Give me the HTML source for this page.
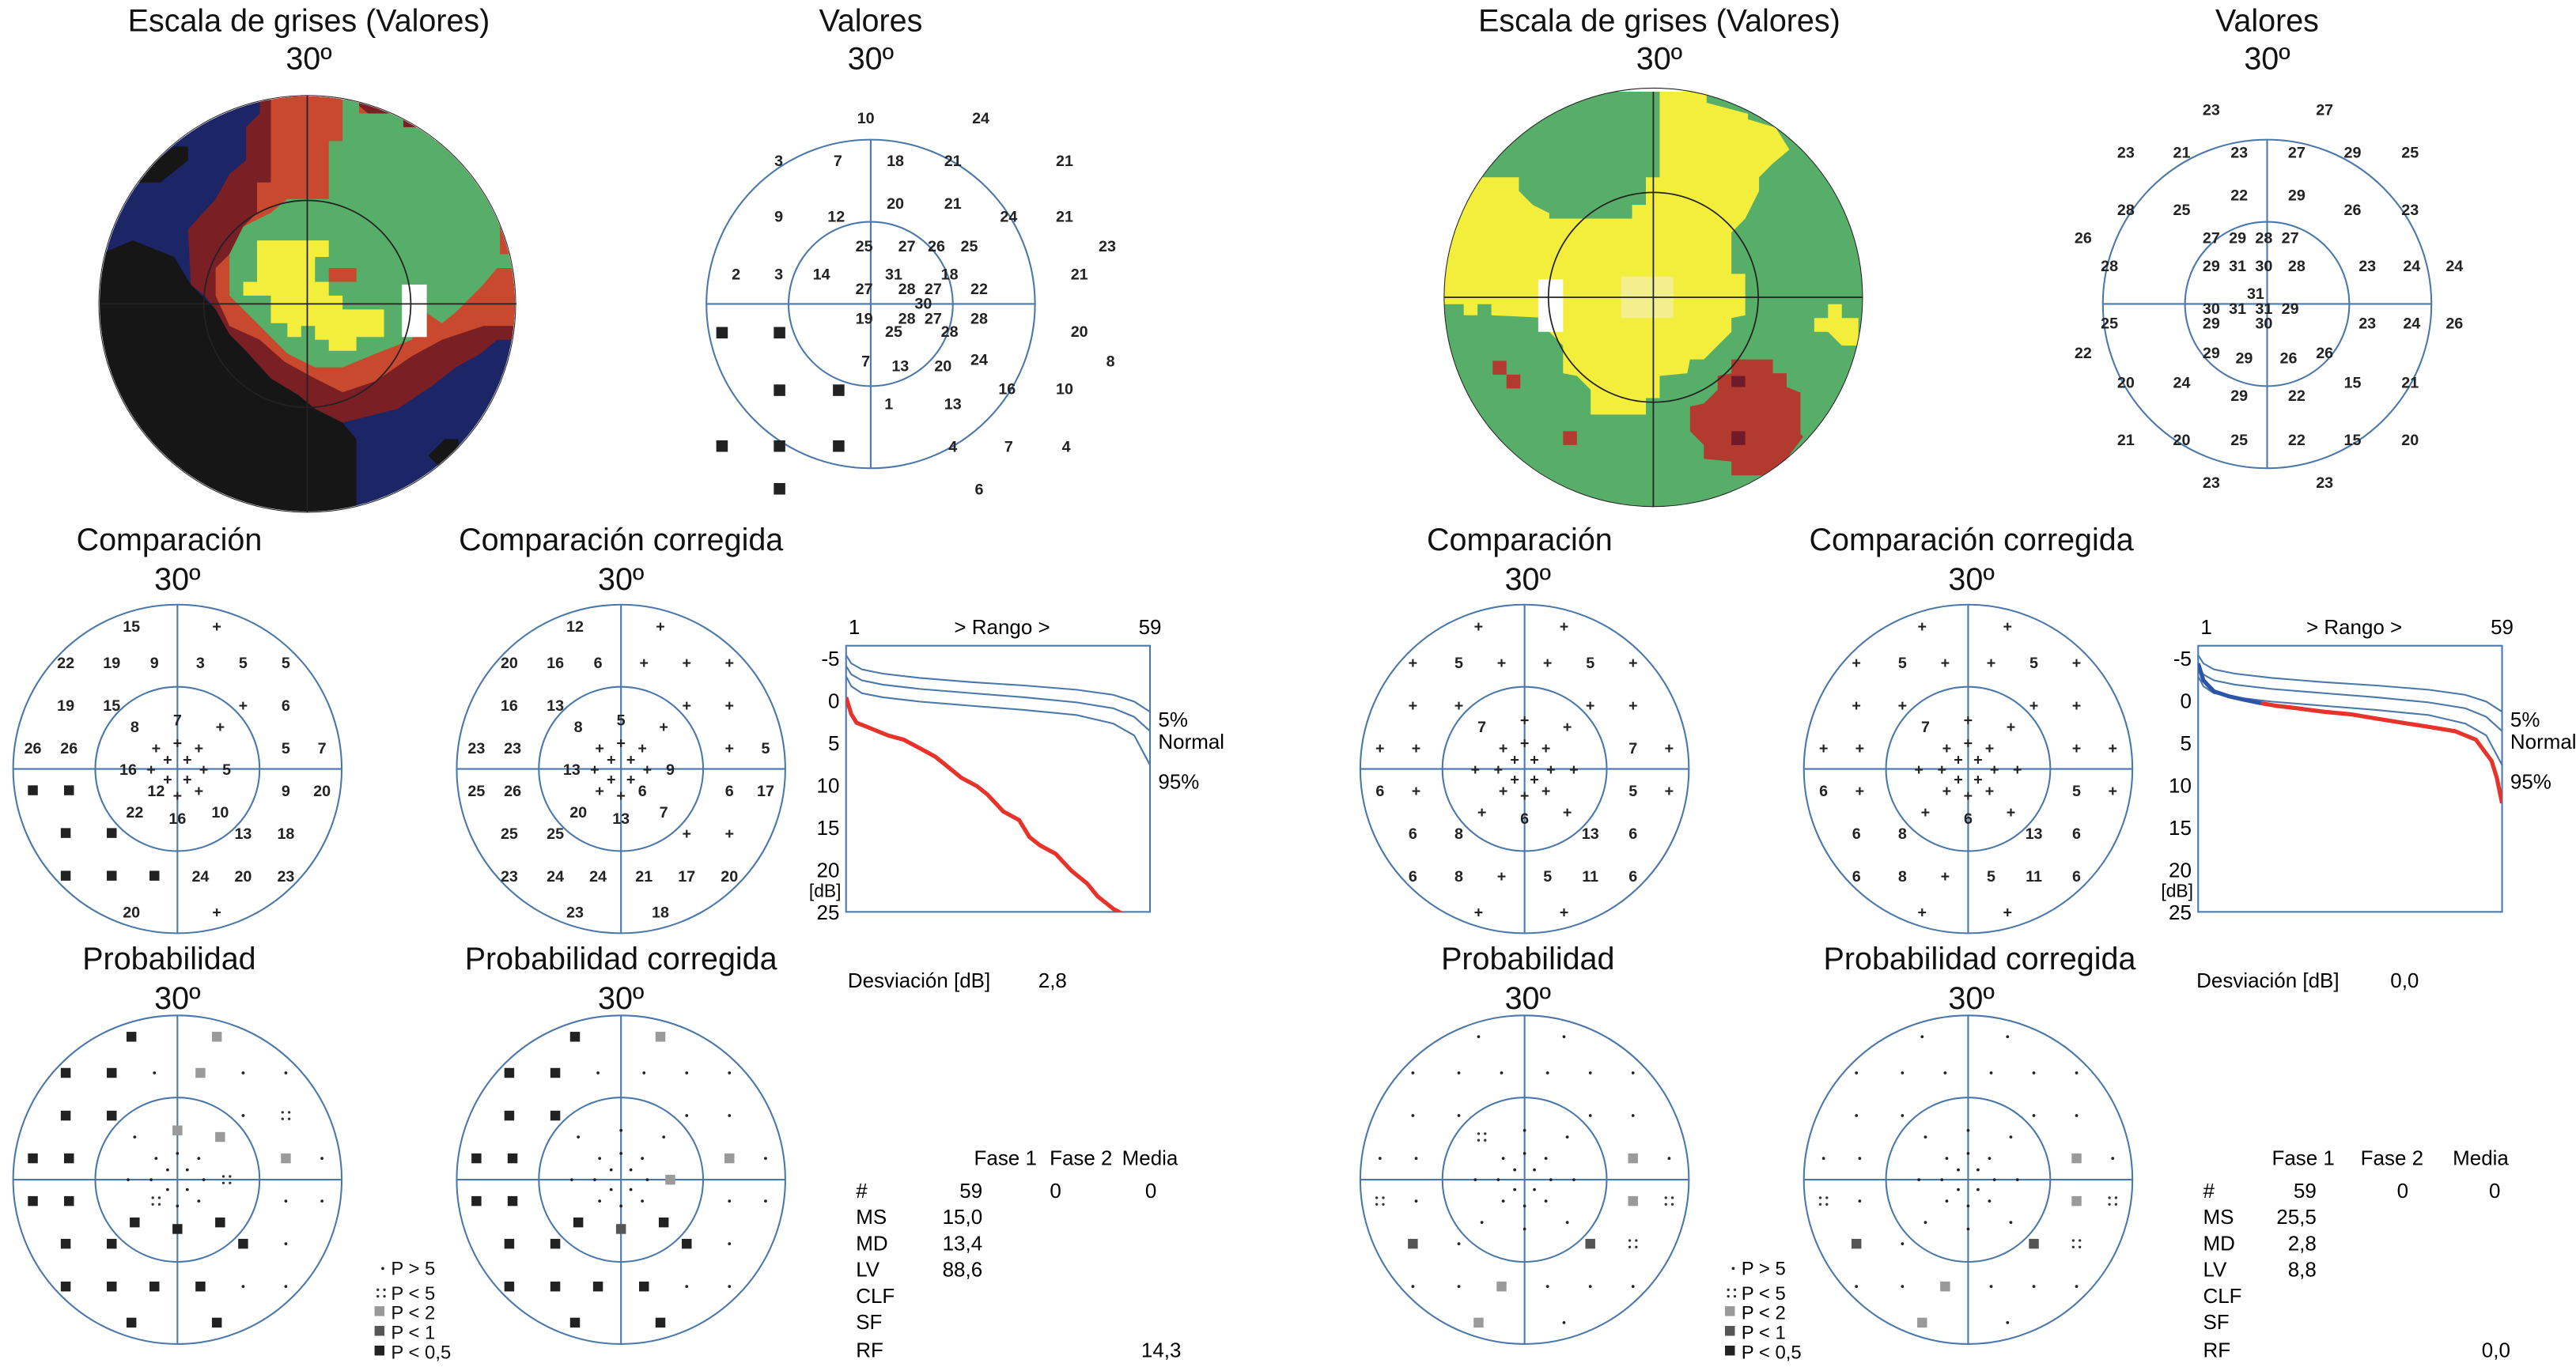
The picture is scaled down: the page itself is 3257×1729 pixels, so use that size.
<!DOCTYPE html>
<html><head><meta charset="utf-8"><style>
html,body{margin:0;padding:0;background:#fff;}
svg{display:block;font-family:"Liberation Sans",sans-serif;}
.t{font-size:19px;text-anchor:middle;fill:#111;}
.n{font-size:9.5px;font-weight:bold;text-anchor:middle;fill:#222;}
.s{font-size:12.5px;fill:#111;}
.c{fill:none;stroke:#4a78aa;stroke-width:1;}
</style></head><body>
<svg id="root" width="3257" height="1729" viewBox="0 0 1568 832" preserveAspectRatio="none" xmlns="http://www.w3.org/2000/svg">
<defs>
<clipPath id="clipL"><circle cx="752" cy="770" r="752"/></clipPath>
<clipPath id="clipR"><circle cx="757" cy="745" r="757"/></clipPath>
</defs>

<!-- LEFT GRAYSCALE -->
<g><text class="t" x="188" y="19">Escala de grises (Valores)</text><text class="t" x="188" y="42">30º</text></g>
<g transform="translate(60.7,55.6) scale(0.168)">
<g clip-path="url(#clipL)">
<rect x="0" y="0" width="1568" height="1568" fill="#1c2566"/>
<polygon fill="#161616" points="0,590 120,540 270,600 330,700 420,790 470,880 530,940 620,1040 720,1100 780,1150 880,1200 930,1260 930,1568 0,1568"/>
<polygon fill="#161616" points="120,330 170,280 270,200 320,200 320,250 220,330"/>
<polygon fill="#161616" points="1190,1320 1250,1260 1300,1260 1300,1320 1240,1370"/>
<polygon fill="#7a1f24" points="530,130 580,80 580,0 1568,0 1568,900 1440,900 1380,950 1290,1000 1200,1070 1080,1150 880,1200 780,1150 720,1100 620,1040 530,940 470,880 420,790 380,740 330,700 320,500 420,390 470,300 530,250"/>
<polygon fill="#c9492f" points="620,0 880,0 1568,600 1568,850 1390,850 1240,900 1130,960 1000,1050 880,1090 780,1040 670,980 580,900 470,850 420,740 420,640 470,590 520,490 570,440 570,330 620,330 620,250"/>
<polygon fill="#56ae68" points="880,0 940,0 940,80 1100,80 1100,130 1250,130 1300,250 1400,330 1450,430 1450,590 1568,590 1568,640 1440,640 1390,700 1340,750 1290,800 1240,840 1180,800 1130,900 1000,950 880,1000 780,1000 680,950 620,890 570,840 520,790 470,740 470,590 520,490 620,440 680,390 830,390 830,180 880,180"/>
<polygon fill="#f3ee3c" points="570,540 830,540 830,600 780,600 780,690 830,690 830,740 880,740 880,790 1030,790 1030,890 930,890 930,940 830,940 830,900 780,900 780,850 730,850 730,890 680,890 680,840 620,840 620,740 520,740 520,690 570,690"/>
<rect x="1095" y="700" width="90" height="190" fill="#fff"/>
<rect x="830" y="640" width="100" height="50" fill="#c9492f"/>
</g>
<g stroke="#222" stroke-width="5" fill="none">
<circle cx="752" cy="770" r="375"/><line x1="0" y1="770" x2="1510" y2="770"/><line x1="752" y1="15" x2="752" y2="1525"/><circle cx="752" cy="770" r="755" stroke-width="3"/></g>
</g>

<!-- RIGHT GRAYSCALE -->
<g><text class="t" x="1010" y="19">Escala de grises (Valores)</text><text class="t" x="1010" y="42">30º</text></g>
<g transform="translate(879.2,55.8) scale(0.168)">
<g clip-path="url(#clipR)">
<rect x="0" y="0" width="1568" height="1568" fill="#56ae68"/>
<polygon fill="#f3ee3c" points="0,560 20,420 70,410 120,310 270,310 270,360 320,410 380,440 380,460 680,460 680,410 730,410 730,310 780,310 780,0 950,0 950,40 1100,80 1100,100 1200,130 1250,210 1190,260 1140,310 1140,360 1090,460 1040,510 1040,660 1090,660 1090,810 1040,820 1040,870 990,920 940,970 890,970 880,1020 780,1030 780,1110 730,1110 730,1170 530,1170 530,1080 480,1030 430,1020 430,920 380,870 380,820 170,810 170,770 120,770 120,810 70,810 70,770 0,770"/>
<polygon fill="#f3ee3c" points="1390,770 1440,770 1440,820 1500,820 1500,920 1440,920 1390,870 1340,870 1340,820 1390,820"/>
<rect x="340" y="680" width="90" height="190" fill="#fff"/>
<rect x="640" y="670" width="190" height="150" fill="#f2ef8c"/>
<polygon fill="#b23a2e" points="1040,970 1190,970 1190,1020 1240,1020 1240,1070 1290,1090 1290,1240 1300,1250 1240,1330 1190,1390 1040,1390 1040,1340 940,1330 940,1280 890,1230 890,1140 940,1130 990,1080 990,1030 1040,1020"/>
<rect x="1040" y="1030" width="50" height="40" fill="#6e1a2a"/><rect x="1040" y="1230" width="50" height="50" fill="#6e1a2a"/>
<rect x="175" y="975" width="50" height="50" fill="#b23a2e"/><rect x="225" y="1025" width="50" height="50" fill="#b23a2e"/><rect x="430" y="1230" width="50" height="50" fill="#b23a2e"/>
</g>
<g stroke="#222" stroke-width="5" fill="none">
<circle cx="757" cy="745" r="380"/><line x1="0" y1="745" x2="1515" y2="745"/><line x1="757" y1="0" x2="757" y2="1505"/><circle cx="757" cy="745" r="758" stroke-width="3"/></g>
</g>

<!-- VALORES LEFT -->
<g>
<text class="t" x="530" y="19">Valores</text><text class="t" x="530" y="42">30º</text>
<circle class="c" cx="530" cy="185" r="100"/><circle class="c" cx="530" cy="185" r="50"/>
<line class="c" x1="430" y1="185" x2="630" y2="185"/><line class="c" x1="530" y1="85" x2="530" y2="285"/>
<text class="n" x="527" y="75">10</text><text class="n" x="597" y="75">24</text>
<text class="n" x="474" y="101">3</text><text class="n" x="510" y="101">7</text><text class="n" x="545" y="101">18</text><text class="n" x="580" y="101">21</text><text class="n" x="648" y="101">21</text>
<text class="n" x="474" y="135">9</text><text class="n" x="509" y="135">12</text><text class="n" x="545" y="127">20</text><text class="n" x="580" y="127">21</text><text class="n" x="614" y="135">24</text><text class="n" x="648" y="135">21</text>
<text class="n" x="526" y="153">25</text><text class="n" x="552" y="153">27</text><text class="n" x="570" y="153">26</text><text class="n" x="590" y="153">25</text><text class="n" x="674" y="153">23</text>
<text class="n" x="448" y="170">2</text><text class="n" x="474" y="170">3</text><text class="n" x="500" y="170">14</text><text class="n" x="544" y="170">31</text><text class="n" x="578" y="170">18</text><text class="n" x="657" y="170">21</text>
<text class="n" x="526" y="179">27</text><text class="n" x="552" y="179">28</text><text class="n" x="568" y="179">27</text><text class="n" x="596" y="179">22</text>
<text class="n" x="562" y="188">30</text>
<text class="n" x="526" y="197">19</text><text class="n" x="552" y="197">28</text><text class="n" x="568" y="197">27</text><text class="n" x="596" y="197">28</text>
<text class="n" x="544" y="205">25</text><text class="n" x="578" y="205">28</text><text class="n" x="657" y="205">20</text>
<text class="n" x="527" y="223">7</text><text class="n" x="548" y="226">13</text><text class="n" x="574" y="226">20</text><text class="n" x="596" y="222">24</text><text class="n" x="676" y="223">8</text>
<text class="n" x="613" y="240">16</text><text class="n" x="648" y="240">10</text>
<text class="n" x="541" y="249">1</text><text class="n" x="580" y="249">13</text>
<text class="n" x="580" y="275">4</text><text class="n" x="614" y="275">7</text><text class="n" x="649" y="275">4</text><text class="n" x="596" y="301">6</text>
<g fill="#222"><rect x="436" y="199" width="7" height="7"/><rect x="471" y="199" width="7" height="7"/><rect x="471" y="234" width="7" height="7"/><rect x="507" y="234" width="7" height="7"/><rect x="436" y="268" width="7" height="7"/><rect x="471" y="268" width="7" height="7"/><rect x="507" y="268" width="7" height="7"/><rect x="471" y="294" width="7" height="7"/></g>
</g>

<!-- VALORES RIGHT -->
<g>
<text class="t" x="1380" y="19">Valores</text><text class="t" x="1380" y="42">30º</text>
<circle class="c" cx="1380" cy="185" r="100"/><circle class="c" cx="1380" cy="185" r="50"/>
<line class="c" x1="1280" y1="185" x2="1480" y2="185"/><line class="c" x1="1380" y1="85" x2="1380" y2="285"/>
<text class="n" x="1346" y="70">23</text><text class="n" x="1415" y="70">27</text>
<text class="n" x="1294" y="96">23</text><text class="n" x="1328" y="96">21</text><text class="n" x="1363" y="96">23</text><text class="n" x="1398" y="96">27</text><text class="n" x="1432" y="96">29</text><text class="n" x="1467" y="96">25</text>
<text class="n" x="1294" y="131">28</text><text class="n" x="1328" y="131">25</text><text class="n" x="1363" y="122">22</text><text class="n" x="1398" y="122">29</text><text class="n" x="1432" y="131">26</text><text class="n" x="1467" y="131">23</text>
<text class="n" x="1268" y="148">26</text><text class="n" x="1346" y="148">27</text><text class="n" x="1362" y="148">29</text><text class="n" x="1378" y="148">28</text><text class="n" x="1394" y="148">27</text>
<text class="n" x="1284" y="165">28</text><text class="n" x="1346" y="165">29</text><text class="n" x="1362" y="165">31</text><text class="n" x="1378" y="165">30</text><text class="n" x="1398" y="165">28</text><text class="n" x="1441" y="165">23</text><text class="n" x="1468" y="165">24</text><text class="n" x="1494" y="165">24</text>
<text class="n" x="1373" y="182">31</text>
<text class="n" x="1346" y="191">30</text><text class="n" x="1362" y="191">31</text><text class="n" x="1378" y="191">31</text><text class="n" x="1394" y="191">29</text>
<text class="n" x="1284" y="200">25</text><text class="n" x="1346" y="200">29</text><text class="n" x="1378" y="200">30</text><text class="n" x="1441" y="200">23</text><text class="n" x="1468" y="200">24</text><text class="n" x="1494" y="200">26</text>
<text class="n" x="1268" y="218">22</text><text class="n" x="1346" y="218">29</text><text class="n" x="1366" y="221">29</text><text class="n" x="1393" y="221">26</text><text class="n" x="1415" y="218">26</text>
<text class="n" x="1294" y="236">20</text><text class="n" x="1328" y="236">24</text><text class="n" x="1363" y="244">29</text><text class="n" x="1398" y="244">22</text><text class="n" x="1432" y="236">15</text><text class="n" x="1467" y="236">21</text>
<text class="n" x="1294" y="271">21</text><text class="n" x="1328" y="271">20</text><text class="n" x="1363" y="271">25</text><text class="n" x="1398" y="271">22</text><text class="n" x="1432" y="271">15</text><text class="n" x="1467" y="271">20</text>
<text class="n" x="1346" y="297">23</text><text class="n" x="1415" y="297">23</text>
</g>

<!-- titles of small plots -->
<g>
<text class="t" x="103" y="335">Comparación</text><text class="t" x="108" y="359">30º</text>
<text class="t" x="378" y="335">Comparación corregida</text><text class="t" x="378" y="359">30º</text>
<text class="t" x="103" y="590">Probabilidad</text><text class="t" x="108" y="614">30º</text>
<text class="t" x="378" y="590">Probabilidad corregida</text><text class="t" x="378" y="614">30º</text>
<text class="t" x="925" y="335">Comparación</text><text class="t" x="930" y="359">30º</text>
<text class="t" x="1200" y="335">Comparación corregida</text><text class="t" x="1200" y="359">30º</text>
<text class="t" x="930" y="590">Probabilidad</text><text class="t" x="930" y="614">30º</text>
<text class="t" x="1205" y="590">Probabilidad corregida</text><text class="t" x="1200" y="614">30º</text>
</g>

<!-- legends -->
<g class="s" font-size="11.5">
<circle cx="233" cy="772" r="0.9" fill="#222"/><text x="238" y="776" font-size="11.5">P &gt; 5</text>
<g fill="#333"><circle cx="230" cy="785" r=".8"/><circle cx="234" cy="785" r=".8"/><circle cx="230" cy="789" r=".8"/><circle cx="234" cy="789" r=".8"/></g><text x="238" y="791" font-size="11.5">P &lt; 5</text>
<rect x="228" y="795" width="6" height="6" fill="#999"/><text x="238" y="803" font-size="11.5">P &lt; 2</text>
<rect x="228" y="807" width="6" height="6" fill="#555"/><text x="238" y="815" font-size="11.5">P &lt; 1</text>
<rect x="228" y="819" width="6" height="6" fill="#222"/><text x="238" y="827" font-size="11.5">P &lt; 0,5</text>
</g>
<g transform="translate(822,0)">
<circle cx="233" cy="772" r="0.9" fill="#222"/><text x="238" y="776" font-size="11.5">P &gt; 5</text>
<g fill="#333"><circle cx="230" cy="785" r=".8"/><circle cx="234" cy="785" r=".8"/><circle cx="230" cy="789" r=".8"/><circle cx="234" cy="789" r=".8"/></g><text x="238" y="791" font-size="11.5">P &lt; 5</text>
<rect x="228" y="795" width="6" height="6" fill="#999"/><text x="238" y="803" font-size="11.5">P &lt; 2</text>
<rect x="228" y="807" width="6" height="6" fill="#555"/><text x="238" y="815" font-size="11.5">P &lt; 1</text>
<rect x="228" y="819" width="6" height="6" fill="#222"/><text x="238" y="827" font-size="11.5">P &lt; 0,5</text>
</g>

<!-- tables -->
<g font-size="12.5">
<text x="516" y="601">Desviación [dB]</text><text x="632" y="601">2,8</text>
<text x="612" y="709" text-anchor="middle">Fase 1</text><text x="658" y="709" text-anchor="middle">Fase 2</text><text x="700" y="709" text-anchor="middle">Media</text>
<text x="521" y="729">#</text><text x="521" y="745">MS</text><text x="521" y="761">MD</text><text x="521" y="777">LV</text><text x="521" y="793">CLF</text><text x="521" y="809">SF</text><text x="521" y="826">RF</text>
<g text-anchor="end"><text x="598" y="729">59</text><text x="598" y="745">15,0</text><text x="598" y="761">13,4</text><text x="598" y="777">88,6</text><text x="646" y="729">0</text><text x="704" y="729">0</text><text x="719" y="826">14,3</text></g>
</g>
<g font-size="12.5" transform="translate(820,0)">
<text x="517" y="601">Desviación [dB]</text><text x="635" y="601">0,0</text>
<text x="582" y="709" text-anchor="middle">Fase 1</text><text x="636" y="709" text-anchor="middle">Fase 2</text><text x="690" y="709" text-anchor="middle">Media</text>
<text x="521" y="729">#</text><text x="521" y="745">MS</text><text x="521" y="761">MD</text><text x="521" y="777">LV</text><text x="521" y="793">CLF</text><text x="521" y="809">SF</text><text x="521" y="826">RF</text>
<g text-anchor="end"><text x="590" y="729">59</text><text x="590" y="745">25,5</text><text x="590" y="761">2,8</text><text x="590" y="777">8,8</text><text x="646" y="729">0</text><text x="702" y="729">0</text><text x="708" y="826">0,0</text></g>
</g>
<g id="dyn"></g>
</svg>
<script>
// ---- Bebie curve data ----
const thrRanks = [1,2,4,8,15,25,35,45,52,56,59];
const thrUpper = [-5.5,-4.5,-3.8,-3.3,-2.8,-2.3,-1.9,-1.4,-0.8,0,1.2];
const thrNormal = [-4.2,-3.2,-2.5,-2,-1.5,-1,-0.5,0.1,0.8,1.8,3.5];
const thrLower = [-3,-1.8,-1,-0.5,0,0.5,1,1.6,2.6,4,7.5];
const leftRanks = [1,2,3,5,7,9,12,15,18,20,23,26,28,31,34,36,38,41,44,47,49,52,55,59];
const leftValues = [-0.5,1.5,2.5,3,3.5,4,4.5,5.5,6.5,7.5,9,10,11,13,14,16,17,18,20,21.5,23,24.5,25.5,27];
const rightRanks = [1,2,4,7,10,13,16,20,25,30,35,40,45,50,54,57,58,59];
const rightValues = [-4.5,-2.5,-1.2,-0.6,-0.2,0.2,0.5,0.8,1.2,1.5,2,2.5,3,3.5,4.5,7,9,12];
const yTicks = [-5,0,5,10,15,20,25];

const NS = "http://www.w3.org/2000/svg";
const dyn = document.getElementById('dyn');
function mk(tag, attrs, parent){const e=document.createElementNS(NS,tag);for(const k in attrs)e.setAttribute(k,attrs[k]);(parent||dyn).appendChild(e);return e;}

function bebie(x0, name, ranks, vals, blueUntil){
  const g = mk('g',{});
  
  
  const L=x0, R=x0+185, T=393, B=555;
  const xs = r => L + (r-1)/(59-1)*(R-L);
  const ys = v => 427 + v*5.15;
  const clipId = name+'-clip';
  const cp = mk('clipPath',{id:clipId},g); mk('rect',{x:L,y:T,width:R-L,height:B-T},cp);
  mk('rect',{x:L,y:T,width:R-L,height:B-T,fill:'none',stroke:'#4a78aa','stroke-width':1},g);
  yTicks.forEach(t=>{const tx=mk('text',{x:L-4,y:ys(t)+4,'font-size':12.5,'text-anchor':'end'},g);tx.textContent=t;});
  const db=mk('text',{x:L-3,y:546,'font-size':11,'text-anchor':'end'},g);db.textContent='[dB]';
  const a=mk('text',{x:L+5,y:386,'font-size':12.5,'text-anchor':'middle'},g);a.textContent='1';
  const b=mk('text',{x:L+95,y:386,'font-size':12.5,'text-anchor':'middle'},g);b.textContent='> Rango >';
  const c=mk('text',{x:R,y:386,'font-size':12.5,'text-anchor':'middle'},g);c.textContent='59';
  const lab=[['5%',0.8+1.4],['Normal',3.5+1.3],['95%',7.5+2]];
  lab.forEach(l=>{const t=mk('text',{x:R+5,y:ys(l[1])+4,'font-size':12.5},g);t.textContent=l[0];});
  const line=(rk,vs)=>rk.map((r,i)=>(i?'L':'M')+xs(r).toFixed(1)+','+ys(vs[i]).toFixed(1)).join('');
  [thrUpper,thrNormal,thrLower].forEach((s,i)=>{
    const p=mk('path',{d:line(thrRanks,s),fill:'none',stroke:'#4a78aa','stroke-width':1,'clip-path':'url(#'+clipId+')'},g);
    
    
  });
  let k=0; while(k<ranks.length-1 && ranks[k+1]<=blueUntil) k++;
  if(blueUntil>0){
    const pb=mk('path',{d:line(ranks.slice(0,k+1),vals.slice(0,k+1)),fill:'none',stroke:'#2a55a8','stroke-width':2.5,'clip-path':'url(#'+clipId+')'},g);
    
    
  }
  const s0 = blueUntil>0?k:0;
  const pr=mk('path',{d:line(ranks.slice(s0),vals.slice(s0)),fill:'none',stroke:'#e8332b','stroke-width':2.5,'clip-path':'url(#'+clipId+')'},g);
  
  
}
bebie(515,'bebie-curve-left',leftRanks,leftValues,0);
bebie(1338,'bebie-curve-right',rightRanks,rightValues,13);

// ---- field point patterns ----
const P = [[-28,-87],[24,-87],[-68,-65],[-40,-65],[-14,-65],[14,-65],[40,-65],[66,-65],[-68,-39],[-40,-39],[40,-39],[66,-39],[-88,-13],[-66,-13],[66,-13],[88,-13],[-88,13],[-66,13],[66,13],[88,13],[-68,39],[-40,39],[40,39],[66,39],[-68,65],[-40,65],[-14,65],[14,65],[40,65],[66,65],[-28,87],[24,87],
[-26,-26],[0,-30],[26,-26],[-30,0],[30,0],[-26,26],[0,30],[26,26],[-13,-13],[13,-13],[-13,13],[13,13],[-6,-6],[6,-6],[-6,6],[6,6],[0,-16],[-16,0],[16,0],[0,16]];
const compL = ['15','+','22','19','9','3','5','5','19','15','+','6','26','26','5','7','B','B','9','20','B','B','13','18','B','B','B','24','20','23','20','+','8','7','+','16','5','22','16','10','+','+','12','+','+','+','+','+','+','+','+','+'];
const compCL = ['12','+','20','16','6','+','+','+','16','13','+','+','23','23','+','5','25','26','6','17','25','25','+','+','23','24','24','21','17','20','23','18','8','5','+','13','9','20','13','7','+','+','+','6','+','+','+','+','+','+','+','+'];
const compR = ['+','+','+','5','+','+','5','+','+','+','+','+','+','+','7','+','6','+','5','+','6','8','13','6','6','8','+','5','11','6','+','+','7','+','+','+','+','+','6','+','+','+','+','+','+','+','+','+','+','+','+','+'];
const compCR = ['+','+','+','5','+','+','5','+','+','+','+','+','+','+','+','+','6','+','5','+','6','8','13','6','6','8','+','5','11','6','+','+','7','+','+','+','+','+','6','+','+','+','+','+','+','+','+','+','+','+','+','+'];
const probL = ['B','G','B','B','.','G','.','.','B','B','.',':','B','B','G','.','B','B','.','.','B','B','B','.','B','B','B','B','.','.','B','B','.','G','G','.',':','B','B','B','.','.',':','.','.','.','.','.','.','.','.','.'];
const probCL = ['B','G','B','B','.','.','.','.','B','B','.','.','B','B','G','.','B','B','.','.','B','B','B','.','B','B','B','B','.','.','B','B','.','.','.','.','G','B','D','B','.','.','.','.','.','.','.','.','.','.','.','.'];
const probR = ['.','.','.','.','.','.','.','.','.','.','.','.','.','.','G','.',':','.','G',':','D','.','D',':','.','.','G','.','.','.','G','.',':','.','.','.','.','.','.','.','.','.','.','.','.','.','.','.','.','.','.','.'];
const probCR = ['.','.','.','.','.','.','.','.','.','.','.','.','.','.','G','.',':','.','G',':','D','.','D',':','.','.','G','.','.','.','G','.','.','.','.','.','.','.','.','.','.','.','.','.','.','.','.','.','.','.','.','.'];

function field(cx, cy, syms, name){
  const g = mk('g',{});
  
  
  mk('circle',{cx:cx,cy:cy,r:100,class:'c'},g);
  mk('circle',{cx:cx,cy:cy,r:50,class:'c'},g);
  mk('line',{x1:cx-100,y1:cy,x2:cx+100,y2:cy,class:'c'},g);
  mk('line',{x1:cx,y1:cy-100,x2:cx,y2:cy+100,class:'c'},g);
  syms.forEach((s,i)=>{
    const x=cx+P[i][0], y=cy+P[i][1];
    if(s==='.') mk('circle',{cx:x,cy:y,r:0.9,fill:'#222'},g);
    else if(s==='B'||s==='G'||s==='D') mk('rect',{x:x-3,y:y-3,width:6,height:6,fill:s==='B'?'#222':s==='G'?'#9a9a9a':'#555'},g);
    else if(s===':'){[[-2,-2],[2,-2],[-2,2],[2,2]].forEach(d=>mk('circle',{cx:x+d[0],cy:y+d[1],r:0.8,fill:'#333'},g));}
    else {const t=mk('text',{x:x,y:y+3.5,class:'n'},g);t.textContent=s;}
  });
}
field(108,468,compL,'comparison-plot-left');
field(378,468,compCL,'corrected-comparison-plot-left');
field(108,718,probL,'probability-plot-left');
field(378,718,probCL,'corrected-probability-plot-left');
field(928,468,compR,'comparison-plot-right');
field(1198,468,compCR,'corrected-comparison-plot-right');
field(928,718,probR,'probability-plot-right');
field(1198,718,probCR,'corrected-probability-plot-right');
</script>
</body></html>
